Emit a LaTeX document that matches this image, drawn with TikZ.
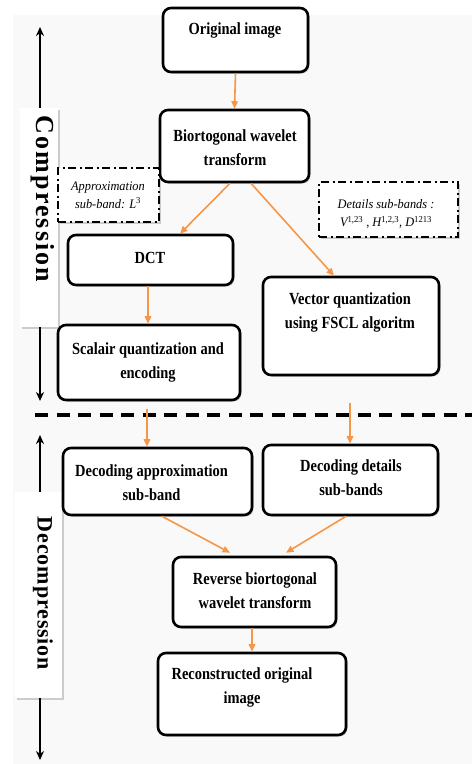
\documentclass[tikz,border=0pt]{standalone}
\usepackage{fontspec}
\setmainfont{Liberation Serif}[BoldFont={Liberation Serif Bold}, ItalicFont={Liberation Serif Italic}]
\usetikzlibrary{shadows,arrows.meta}
\definecolor{arr}{RGB}{247,150,70}
\definecolor{bg}{RGB}{249,249,249}
\begin{document}
\begin{tikzpicture}[x=1pt,y=-1pt,
  box/.style={draw, line width=2.6pt, rounded corners=8pt, fill=white,
    drop shadow={shadow xshift=1.5pt, shadow yshift=-1.5pt, fill=black, opacity=0.22}, inner sep=0pt},
  dbox/.style={draw, line width=1.8pt, fill=white, dash pattern=on 8pt off 3.5pt on 2pt off 3.5pt,
    drop shadow={shadow xshift=1.5pt, shadow yshift=-1.5pt, fill=black, opacity=0.18}, inner sep=0pt},
  labbox/.style={fill=white, inner sep=0pt,
    drop shadow={shadow xshift=1.5pt, shadow yshift=-1.5pt, fill=black, opacity=0.18}},
  txt/.style={font=\bfseries\fontsize{17}{24}\selectfont, align=center, inner sep=0pt, xscale=0.85},
  itxt/.style={font=\itshape\fontsize{13}{18}\selectfont, align=center, inner sep=0pt, xscale=0.95},
  oarr/.style={draw=arr, line width=1.6pt, -{Triangle[length=7.5pt,width=6.5pt]}},
  barr/.style={draw=black, line width=2.5pt, {Stealth[length=9pt,width=8pt]}-{Stealth[length=9pt,width=8pt]}},
  sidetxt/.style={font=\bfseries, rotate=-90, inner sep=0pt}
]
\useasboundingbox (0,0) rectangle (472,764);
\fill[white] (0,0) rectangle (472,764);
\fill[bg] (13,15) rectangle (472,764);

% side arrows and labels
\coordinate (ctop) at (40,27);
\coordinate (cbot) at (40,401);
\draw[barr] (ctop) -- (cbot);
\node[labbox, minimum width=38pt, minimum height=219pt] (cbox) at (39,217.5) {};
\node[sidetxt] (ctext) at (43,199) {\fontsize{26}{28}\selectfont\addfontfeature{LetterSpace=8}Compression};

\coordinate (dtop) at (40,435);
\coordinate (dbot) at (40,760);
\draw[barr] (dtop) -- (dbot);
\node[labbox, minimum width=47pt, minimum height=206pt] (dbox) at (38.5,595) {};
\node[sidetxt] (dtext) at (43,593.5) {\fontsize{22}{24}\selectfont\addfontfeature{LetterSpace=4}Decompression};

% separator
\coordinate (sl) at (35,415);
\coordinate (sr) at (472,415);
\draw[line width=3.5pt, dash pattern=on 13pt off 8.5pt] (sl) -- (sr);

% boxes
\node[box, minimum width=145pt, minimum height=64pt] (orig) at (235.5,40) {};
\node[txt] (origt) at (235,30) {Original image};

\node[box, minimum width=149pt, minimum height=72pt] (bio) at (234.5,146) {};
\node[txt] (biot) at (235,148) {Biortogonal wavelet\\transform};

\node[dbox, minimum width=101pt, minimum height=54pt] (appr) at (108.5,195) {};
\node[itxt] (apprt) at (108,195) {Approximation\\sub-band: \textit{L}\textsuperscript{\upshape 3}};

\node[dbox, minimum width=139pt, minimum height=55pt] (det) at (388.5,209.5) {};
\node[itxt] (dett) at (386,214) {Details sub-bands :\\\textit{V}\textsuperscript{\upshape 1,23} , \textit{H}\textsuperscript{\upshape 1,2,3}, \textit{D}\textsuperscript{\upshape 1213}};

\node[box, minimum width=165pt, minimum height=50pt] (dct) at (150.5,260) {};
\node[txt] (dctt) at (150,258) {DCT};

\node[box, minimum width=182pt, minimum height=75pt] (scal) at (149,362.5) {};
\node[txt] (scalt) at (148,362) {Scalair quantization and\\encoding};

\node[box, minimum width=176pt, minimum height=98pt] (vec) at (351,326) {};
\node[txt] (vect) at (350,312) {Vector quantization\\using FSCL algoritm};

\node[box, minimum width=189pt, minimum height=67pt] (dapp) at (157.5,481.5) {};
\node[txt] (dappt) at (151.5,483) {Decoding approximation\\sub-band};

\node[box, minimum width=175pt, minimum height=70pt] (ddet) at (350.5,480) {};
\node[txt] (ddett) at (351,478) {Decoding details\\sub-bands};

\node[box, minimum width=163pt, minimum height=70pt] (rev) at (254.5,592) {};
\node[txt] (revt) at (255,591) {Reverse biortogonal\\wavelet transform};

\node[box, minimum width=188pt, minimum height=82pt] (rec) at (252,694) {};
\node[txt] (rect) at (242,687) {Reconstructed original\\image};

% arrows
\draw[oarr] (orig.south) -- (bio.north);
\draw[oarr] ([xshift=-4.5pt]bio.south) -- ([xshift=29.5pt]dct.north);
\draw[oarr] ([xshift=16.5pt]bio.south) -- ([xshift=-17pt]vec.north);
\draw[oarr] ([xshift=-2.5pt]dct.south) -- ([xshift=-1pt]scal.north);
\draw[oarr] ([xshift=-2pt,yshift=-8pt]scal.south) -- ([xshift=-10.5pt]dapp.north);
\draw[oarr] ([xshift=-1pt,yshift=-27pt]vec.south) -- ([xshift=-0.5pt]ddet.north);
\draw[oarr] ([xshift=4.5pt]dapp.south) -- ([xshift=-24.5pt,yshift=3pt]rev.north);
\draw[oarr] ([xshift=-4.5pt]ddet.south) -- ([xshift=31.5pt,yshift=3pt]rev.north);
\draw[oarr] ([xshift=-2.5pt]rev.south) -- (rec.north);
\end{tikzpicture}
\end{document}
